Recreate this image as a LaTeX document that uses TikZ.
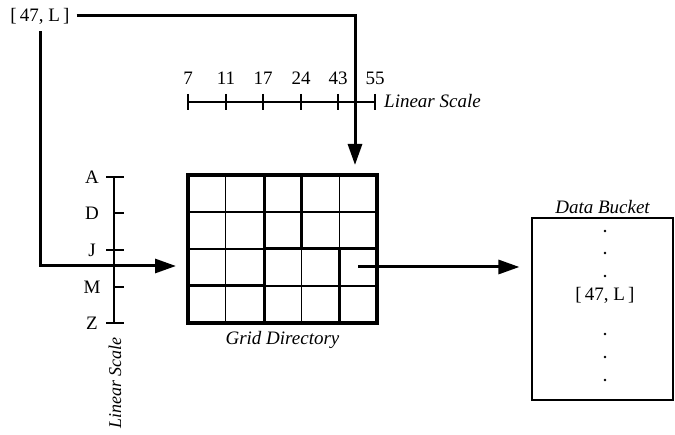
\documentclass[tikz,border=0pt]{standalone}
\usepackage{fontspec}
\setmainfont{Liberation Serif}
\usetikzlibrary{arrows.meta,positioning}

\begin{document}
\begin{tikzpicture}[x=1pt, y=-1pt,
    key/.style={inner sep=1pt, font=\fontsize{19}{21}\selectfont},
    lbl/.style={inner sep=1pt, font=\fontsize{19}{21}\selectfont\itshape},
    arr/.style={line width=3pt, -{Triangle[length=21pt, width=14pt]}},
    thin/.style={line width=1.1pt},
    thick/.style={line width=3pt}
]
    \useasboundingbox (0,0) rectangle (675,435);

    % search key and bucket
    \node[key] (key) at (40,16) {[\,47, L\,]};
    \node[draw, thin, minimum width=141pt, minimum height=182pt] (bucket) at (602.5,309) {};
    \node[lbl, above=3pt of bucket] {Data Bucket};
    \node[key] (rec) at (605,295) {[\,47, L\,]};
    \foreach \y in {231,253,276,334,357,380} \fill (605,\y) circle (1.4pt);

    % grid directory
    \node[draw, line width=3.5pt, minimum width=189pt, minimum height=148pt] (grid) at (282.5,249) {};
    \node[lbl, below=5pt of grid] {Grid Directory};
    \foreach \x in {225.8,263.6,301.4,339.2} \draw[thin] (\x,175) -- (\x,323);
    \foreach \y in {212,249,286} \draw[thin] (188,\y) -- (377,\y);
    \draw[thick] (264,175) -- (264,323);
    \draw[thick] (301.4,175) -- (301.4,249) (264,249) -- (377,249);
    \draw[thick] (339.2,249) -- (339.2,323) (188,286) -- (264,286);

    % horizontal linear scale
    \draw[thin] (188,102) -- (375,102);
    \foreach \x/\v in {188/7,226/11,263/17,301/24,338/43,375/55} {
        \draw[thin] (\x,94) -- (\x,110);
        \node[key] at (\x,78) {\v};
    }
    \node[lbl, anchor=west] at (383,101) {Linear Scale};

    % vertical linear scale
    \draw[thin] (114,177) -- (114,323);
    \foreach \y/\v/\l in {177/A/106,213/D/114,250/J/106,287/M/114,323/Z/106} {
        \draw[thin] (\l,\y) -- (124,\y);
        \node[key] at (92,\y) {\v};
    }
    \node[lbl, rotate=90, font=\fontsize{18}{20}\selectfont\itshape] at (115,383) {Linear Scale};

    % connectors
    \coordinate (xin) at (355,165);
    \coordinate (yin) at (176,266);
    \coordinate (cell) at (358,267);
    \draw[arr, shorten <=6pt] (key.east) -| (xin);
    \draw[arr, shorten <=6pt] (key.south) |- (yin);
    \draw[arr, shorten >=12pt] (cell) -- (cell -| bucket.west);
\end{tikzpicture}
\end{document}
